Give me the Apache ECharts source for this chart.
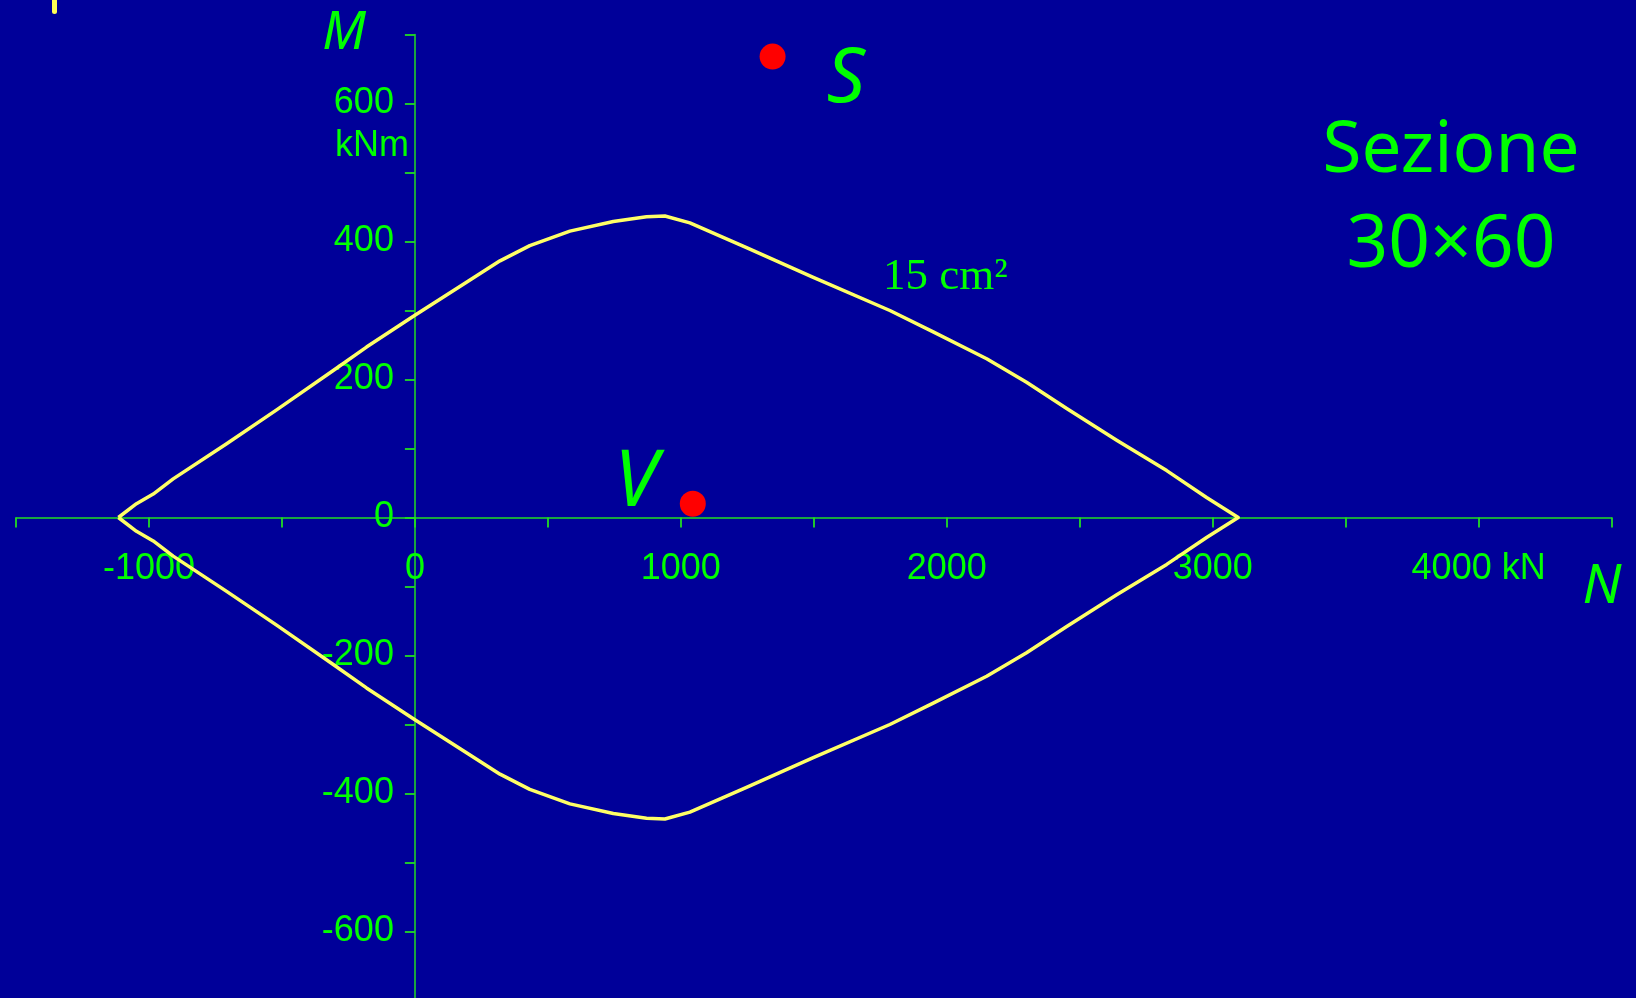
<!DOCTYPE html>
<html>
<head>
<meta charset="utf-8">
<script src="https://cdn.jsdelivr.net/npm/echarts@6/dist/echarts.min.js"></script>
<style>
  html, body { margin: 0; padding: 0; background: #000099; }
  #chart { width: 1636px; height: 998px; }
</style>
</head>
<body>
<div id="chart"></div>
<script>
// Interaction domain, section 30x60, 15 cm2 (N in kN, M in kNm)
const upperN = [-1115,-1047,-984,-909,-708,-520,-307,-182,0,194,320,432,583,746,871,940,1034,1247,1498,1786,1949,2150,2300,2451,2639,2827,2977,3096];
const upperM = [0,20,34,56,107,156,213,247,293,341,372,394,415,429,436,437,427,391,348,300,269,230,196,158,112,68,29,0];
const lowerN = [3096,2977,2827,2639,2451,2300,2150,1949,1786,1498,1247,1034,940,871,746,583,432,320,194,0,-182,-307,-520,-708,-909,-984,-1047,-1115];
const lowerM = [0,-29,-68,-112,-158,-196,-230,-269,-300,-348,-391,-427,-437,-436,-429,-415,-394,-372,-341,-293,-247,-213,-156,-107,-56,-34,-20,0];

// Design points
const pointNames = ['S', 'V'];
const pointN = [1345, 1045];
const pointM = [668, 20];

// Axis ranges / ticks
const xMin = -1500, xMax = 4500, xStep = 500;
const yMin = -700, yMax = 700, yStep = 100;

const domain = upperN.map((n, i) => [n, upperM[i]])
  .concat(lowerN.map((n, i) => [n, lowerM[i]]));
const points = pointN.map((n, i) => ({ name: pointNames[i], value: [n, pointM[i]] }));

const green = '#00ff00';
const axisGreen = '#22dd22';
const labelFont = 'Liberation Sans, Arial, sans-serif';

// grid geometry
const gLeft = 16, gTop = 34.5, gWidth = 1595.6, gHeight = 966;
// place axes through the origin by offsetting them from the grid edges
const xAxisOffset = -gHeight * (0 - yMin) / (yMax - yMin);
const yAxisOffset = -gWidth * (0 - xMin) / (xMax - xMin);

const chart = echarts.init(document.getElementById('chart'), null, { renderer: 'canvas' });
chart.setOption({
  backgroundColor: '#000099',
  animation: false,
  grid: { left: gLeft, top: gTop, width: gWidth, height: gHeight, containLabel: false, outerBoundsMode: 'none' },
  xAxis: {
    type: 'value', min: xMin, max: xMax, interval: xStep,
    position: 'bottom', offset: xAxisOffset,
    axisLine: { onZero: false, lineStyle: { color: axisGreen, width: 1.5 } },
    axisTick: { show: true, inside: false, length: 10, lineStyle: { color: axisGreen, width: 1.8 } },
    splitLine: { show: false },
    axisLabel: {
      color: green, fontSize: 36, fontFamily: labelFont, margin: 34,
      formatter: v => (v % 1000 === 0) ? (v === 4000 ? '4000 kN' : String(v)) : ''
    }
  },
  yAxis: {
    type: 'value', min: yMin, max: yMax, interval: yStep,
    position: 'left', offset: yAxisOffset,
    axisLine: { onZero: false, lineStyle: { color: axisGreen, width: 1.5 } },
    axisTick: { show: true, inside: false, length: 10, lineStyle: { color: axisGreen, width: 1.8 } },
    splitLine: { show: false },
    axisLabel: {
      color: green, fontSize: 36, fontFamily: labelFont, margin: 21,
      formatter: v => (v % 200 === 0) ? String(v) : ''
    }
  },
  series: [
    {
      type: 'line', data: domain, showSymbol: false, smooth: false,
      lineStyle: { color: '#ffff66', width: 3.5, join: 'round' }, z: 3, silent: true
    },
    {
      type: 'scatter', data: points, symbol: 'circle', symbolSize: 26,
      itemStyle: { color: '#ff0000', opacity: 1 }, z: 4, silent: true
    }
  ],
  graphic: [
    { type: 'rect', shape: { x: 52, y: -4, width: 5, height: 18, r: 2.5 }, style: { fill: '#ffff55' } },
    { type: 'text', x: 344, y: 34, style: { text: 'M', fill: green, font: 'italic 52px "Noto Sans", sans-serif', align: 'center', verticalAlign: 'middle' } },
    { type: 'text', x: 335, y: 146, style: { text: 'kNm', fill: green, font: '36px "Liberation Sans", Arial, sans-serif', align: 'left', verticalAlign: 'middle' } },
    { type: 'text', x: 846, y: 80, style: { text: 'S', fill: green, font: 'italic 76px "Noto Sans", sans-serif', align: 'center', verticalAlign: 'middle' } },
    { type: 'text', x: 636, y: 484, style: { text: 'V', fill: green, font: 'italic 78px "Noto Sans", sans-serif', align: 'center', verticalAlign: 'middle' } },
    { type: 'text', x: 1602, y: 587, style: { text: 'N', fill: green, font: 'italic 55px "Noto Sans", sans-serif', align: 'center', verticalAlign: 'middle' } },
    { type: 'text', x: 883, y: 277, style: { text: '15 cm²', fill: green, font: '45px "Liberation Serif", "Times New Roman", serif', align: 'left', verticalAlign: 'middle' } },
    { type: 'text', x: 1451, y: 152, style: { text: 'Sezione', fill: green, font: '71px "Noto Sans", sans-serif', align: 'center', verticalAlign: 'middle' } },
    { type: 'text', x: 1451, y: 246, style: { text: '30×60', fill: green, font: '73px "Noto Sans", sans-serif', align: 'center', verticalAlign: 'middle' } }
  ]
});
</script>
</body>
</html>
